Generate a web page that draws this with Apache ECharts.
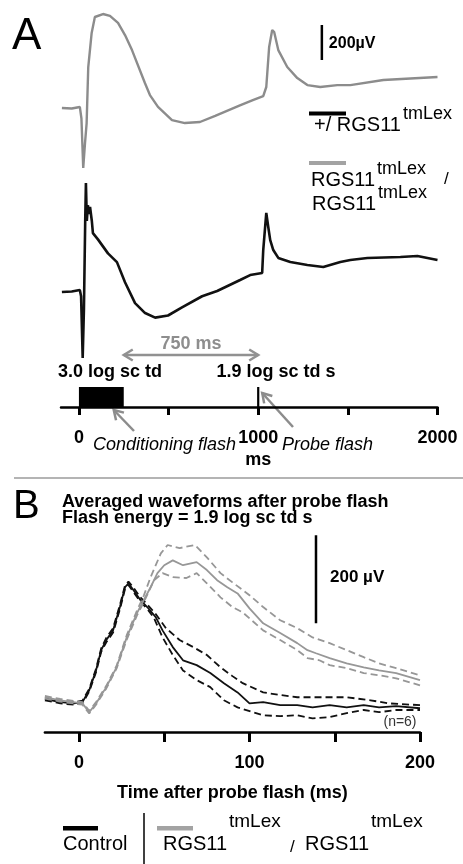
<!DOCTYPE html>
<html><head><meta charset="utf-8">
<script src="https://cdn.jsdelivr.net/npm/echarts@6/dist/echarts.min.js"></script>
<style>html,body{margin:0;padding:0;background:#fff}#c{width:463px;height:864px}</style>
</head><body><div id="c"></div>
<script>
const FONT = '"Liberation Sans", Arial, Helvetica, sans-serif';

// ---------- Panel A: ERG traces (time ms, amplitude µV re. pre-flash baseline) ----------
const grayA_t = [-95,-40,5,14,24,34,43,52,71,89,134,173,218,257,296,368,396,441,519,591,675,760,898,970,1028,1045,1061,1078,1089,1112,1162,1218,1274,1346,1441,1514,1698,2000];
const grayA_v = [0,-3,6,-60,-343,-200,-86,234,429,520,537,526,486,417,331,143,74,6,-69,-86,-80,-45,15,45,68,120,349,446,434,331,234,171,131,120,131,131,160,177];
const blackA_t = [-95,-40,5,12,21,28,35,39,44,50,56,62,72,78,106,162,212,257,313,369,425,497,575,687,771,899,955,1022,1028,1045,1056,1067,1084,1112,1179,1274,1363,1458,1514,1609,1793,1888,2000];
const blackA_v = [-6,-3,6,-30,-383,-100,400,617,400,490,440,480,400,331,295,215,165,50,-69,-126,-152,-140,-94,-30,0,63,91,103,234,446,366,291,234,189,166,149,137,166,177,189,194,200,177];
const timelineTicks = [0,500,1000,1500,2000];
const timelineLabels = [0,1000,2000];
const conditioningFlash = [0, 250];
const probeFlash = 1000;
const interval750 = [250, 1000];
const scaleBarA = {t:1355, from:274, to:474};

// ---------- Panel B: averaged waveforms after probe flash (ms, µV) ----------
const bMean_t = [-20,-11,-3,2,6,10,13,16,20,24,27,29,32,36,40,45,49,55,61,69,77,85,93,100,108,118,128,137,147,157,167,176,186,200];
const bMean_v = [5,-2,-5,-2,25,70,116,139,161,214,259,268,252,230,214,191,161,123,93,82,64,41,20,-5,-2,-9,-9,-14,-9,-14,-9,-14,-11,-16];
const bUp_t = [-20,-11,-3,2,6,10,13,16,20,24,27,29,32,36,40,45,51,59,67,75,83,90,96,108,118,128,137,147,157,171,182,200];
const bUp_v = [8,1,-2,1,28,74,120,144,166,219,263,272,258,236,220,198,166,139,123,105,77,57,41,20,14,9,9,9,9,2,-5,-9];
const bLo_t = [-20,-11,-3,2,6,10,13,16,20,24,27,29,32,36,40,44,49,55,61,69,77,85,93,108,118,128,137,147,157,167,176,186,200];
const bLo_v = [2,-5,-8,-5,22,66,112,134,156,209,255,264,248,226,210,189,145,105,70,48,32,2,-14,-32,-34,-32,-39,-36,-27,-20,-25,-20,-20];
const gMean_t = [-20,-11,2,6,10,16,22,28,34,38,42,46,50,55,61,69,75,81,87,93,100,108,118,128,134,139,147,157,167,176,186,200];
const gMean_v = [9,2,-5,-25,-5,32,77,145,200,230,259,291,309,320,309,316,298,275,259,245,211,177,155,132,116,109,98,86,77,70,64,48];
const gUp_t = [-20,-11,2,6,10,16,22,28,34,38,42,48,52,59,68,75,83,90,100,108,118,128,137,147,157,167,176,186,200];
const gUp_v = [12,5,-2,-22,-2,35,80,150,206,240,282,336,355,348,355,327,291,270,241,214,184,166,145,132,116,100,86,75,59];
const gLo_t = [-20,-11,2,6,10,16,22,28,34,38,44,49,55,63,69,75,83,90,96,108,118,128,134,141,147,157,167,176,186,200];
const gLo_v = [6,-1,-8,-28,-8,29,74,140,195,225,275,291,282,280,291,268,236,214,202,161,139,116,98,93,82,75,64,59,52,36];
const ticksB = [0,50,100,150,200];
const labelsB = [0,100,200];
const scaleBarB = {t:139, from:177, to:377};

const BLACK = '#111111', GRAY_A = '#8c8c8c', GRAY_B = '#979797';

const chart = echarts.init(document.getElementById('c'), null, {renderer:'canvas'});
const zip = (t, v) => t.map((x, i) => [x, v[i]]);
const hid = (gi, min, max) => ({gridIndex:gi, type:'value', min, max, show:false});
const line = (xi, data, color, width, type) => ({
  type:'line', xAxisIndex:xi, yAxisIndex:xi, data, showSymbol:false, symbol:'none',
  lineStyle:{color, width, type: type || 'solid'}, silent:true, clip:false
});
const axisFont = {fontFamily:FONT, fontSize:18, fontWeight:'bold', color:'#000', formatter:(v) => String(v)};

const option = {
  animation:false,
  backgroundColor:'#ffffff',
  grid:[
    {left:61, width:376.5, top:3, height:175, outerBoundsMode:'none'},
    {left:61, width:376.5, top:168.5, height:210, outerBoundsMode:'none'},
    {left:61, width:376.5, top:387, height:20, outerBoundsMode:'none'},
    {left:44.9, width:375.1, top:534, height:198, outerBoundsMode:'none'}
  ],
  xAxis:[
    hid(0,-100,2000), hid(1,-100,2000),
    {gridIndex:2, type:'value', min:-100, max:2000, position:'bottom',
      axisLine:{show:true, onZero:false, lineStyle:{color:'#000', width:2.5}},
      axisTick:{show:true, customValues:timelineTicks, length:8, inside:false, lineStyle:{color:'#000', width:3}},
      axisLabel:Object.assign({customValues:timelineLabels, margin:22}, axisFont),
      splitLine:{show:false}},
    {gridIndex:3, type:'value', min:-20, max:200, position:'bottom',
      axisLine:{show:true, onZero:false, lineStyle:{color:'#000', width:2.5}},
      axisTick:{show:true, customValues:ticksB, length:10, inside:false, lineStyle:{color:'#000', width:3}},
      axisLabel:Object.assign({customValues:labelsB, margin:22}, axisFont),
      splitLine:{show:false},
      name:'Time after probe flash (ms)', nameLocation:'middle', nameGap:52,
      nameTextStyle:{fontFamily:FONT, fontSize:18, fontWeight:'bold', color:'#000'}}
  ],
  yAxis:[hid(0,-400,600), hid(1,-500,700), hid(2,0,1), hid(3,-70,380)],
  series:[
    line(0, zip(grayA_t, grayA_v), GRAY_A, 2.4),
    line(0, [[scaleBarA.t, scaleBarA.from],[scaleBarA.t, scaleBarA.to]], '#000', 2.5),
    line(1, zip(blackA_t, blackA_v), BLACK, 2.6),
    {type:'custom', xAxisIndex:2, yAxisIndex:2, silent:true, clip:false,
      data:[[conditioningFlash[0], conditioningFlash[1]], [probeFlash, probeFlash]],
      renderItem:(params, api) => {
        const a = api.coord([api.value(0), 0]);
        const b = api.coord([api.value(1), 1]);
        const w = b[0] - a[0];
        if (w < 1) return {type:'line', shape:{x1:a[0], y1:a[1], x2:a[0], y2:b[1]}, style:{stroke:'#000', lineWidth:2.2}};
        return {type:'rect', shape:{x:a[0], y:b[1], width:w, height:a[1]-b[1]}, style:{fill:'#000'}};
      }},
    line(3, zip(bUp_t, bUp_v), BLACK, 1.8, [7,4]),
    line(3, zip(bLo_t, bLo_v), BLACK, 1.8, [7,4]),
    line(3, zip(bMean_t, bMean_v), BLACK, 1.8),
    line(3, zip(gUp_t, gUp_v), GRAY_B, 1.8, [7,4]),
    line(3, zip(gLo_t, gLo_v), GRAY_B, 1.8, [7,4]),
    line(3, zip(gMean_t, gMean_v), GRAY_B, 1.8),
    line(3, [[scaleBarB.t, scaleBarB.from],[scaleBarB.t, scaleBarB.to]], '#000', 2.5)
  ]
};
chart.setOption(option);

// ---------- annotations ----------
function T(x, baseline, text, size, o) {
  o = o || {};
  return {type:'text', x, y: baseline - 0.35 * size, silent:true, style:{
    text, fontFamily:FONT, fontSize:size, fontWeight:o.weight || 'normal', fontStyle:o.style || 'normal',
    fill:o.color || '#000', align:o.align || 'left', verticalAlign:'middle'}};
}
function arrowHead(x1, y1, x2, y2, h, w, color, lw) {
  const dx = x2 - x1, dy = y2 - y1, L = Math.hypot(dx, dy), ux = dx / L, uy = dy / L, nx = -uy, ny = ux;
  return {type:'polyline', silent:true, shape:{points:[[x2 - ux*h + nx*w, y2 - uy*h + ny*w],[x2, y2],[x2 - ux*h - nx*w, y2 - uy*h - ny*w]]},
    style:{stroke:color, lineWidth:lw, fill:null, lineJoin:'miter'}};
}
function arrow(x1, y1, x2, y2, color, lw, both) {
  const els = [{type:'line', silent:true, shape:{x1, y1, x2, y2}, style:{stroke:color, lineWidth:lw}},
    arrowHead(x1, y1, x2, y2, 9, 5.5, color, lw)];
  if (both) els.push(arrowHead(x2, y2, x1, y1, 9, 5.5, color, lw));
  return els;
}
const px = (gi, x, y) => chart.convertToPixel({gridIndex:gi}, [x, y]);
const a0 = px(2, interval750[0], 0), a1 = px(2, interval750[1], 0);
const probeP = px(2, probeFlash, 1), condP = px(2, conditioningFlash[1], 0);
const sbA = px(0, scaleBarA.t, scaleBarA.to), sbB = px(3, scaleBarB.t, scaleBarB.to);
const midA = (a0[0] + a1[0]) / 2;

const g = [];
// panel letters
g.push(T(12, 52, 'A', 44));
g.push(T(13, 521, 'B', 40));
// scale bar labels
g.push(T(sbA[0] + 7, 49, '200\u00b5V', 16, {weight:'bold'}));
g.push(T(sbB[0] + 14, 583, '200 \u00b5V', 17, {weight:'bold'}));
// panel A legend
g.push({type:'rect', silent:true, shape:{x:309, y:111.5, width:37, height:4}, style:{fill:'#000'}});
g.push(T(314, 132, '+/ RGS11', 20));
g.push(T(403, 120, 'tmLex', 18));
g.push({type:'rect', silent:true, shape:{x:309, y:161, width:37, height:4}, style:{fill:'#a3a3a3'}});
g.push(T(311, 187, 'RGS11', 20));
g.push(T(377, 175, 'tmLex', 18));
g.push(T(444, 185, '/', 17));
g.push(T(312, 211, 'RGS11', 20));
g.push(T(378, 199, 'tmLex', 18));
// 750 ms interval arrow
g.push(...arrow(a0[0], 355, a1[0], 355, '#919191', 2.5, true));
g.push(T(midA, 350, '750 ms', 18, {weight:'bold', color:'#8e8e8e', align:'center'}));
g.push(T(110, 378, '3.0 log sc td', 18, {weight:'bold', align:'center'}));
g.push(T(276, 378, '1.9 log sc td s', 18, {weight:'bold', align:'center'}));
// pointer arrows
g.push(...arrow(134, 431, condP[0] - 10, condP[1] + 3, '#8c8c8c', 2.5, false));
g.push(...arrow(293, 427, probeP[0] + 4, probeP[1] + 6, '#8c8c8c', 2.5, false));
g.push(T(93, 451, 'Conditioning flash', 18, {style:'italic'}));
g.push(T(282, 451, 'Probe flash', 18, {style:'italic'}));
g.push(T(a1[0], 466, 'ms', 18, {weight:'bold', align:'center'}));
// separator
g.push({type:'line', silent:true, shape:{x1:14, y1:478, x2:463, y2:478}, style:{stroke:'#b4b4b4', lineWidth:2}});
// panel B titles
g.push(T(62, 508, 'Averaged waveforms after probe flash', 18, {weight:'bold'}));
g.push(T(62, 524, 'Flash energy = 1.9 log sc td s', 18, {weight:'bold'}));
g.push(T(400, 727, '(n=6)', 14, {color:'#333', align:'center'}));
// bottom legend
g.push({type:'rect', silent:true, shape:{x:63, y:826, width:35, height:4.5}, style:{fill:'#000'}});
g.push(T(63, 851, 'Control', 20));
g.push({type:'line', silent:true, shape:{x1:144, y1:813, x2:144, y2:864}, style:{stroke:'#000', lineWidth:1.5}});
g.push({type:'rect', silent:true, shape:{x:157, y:826, width:36, height:4.5}, style:{fill:'#a3a3a3'}});
g.push(T(163, 851, 'RGS11', 20));
g.push(T(229, 828, 'tmLex', 19));
g.push(T(290, 853, '/', 17));
g.push(T(305, 851, 'RGS11', 20));
g.push(T(371, 828, 'tmLex', 19));

chart.setOption({graphic:{elements:g}});
</script></body></html>
